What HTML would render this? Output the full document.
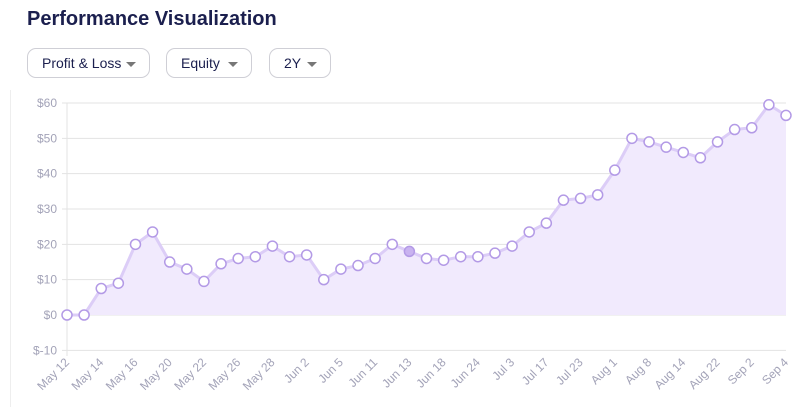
<!DOCTYPE html>
<html><head><style>
body{margin:0;width:802px;height:407px;background:#fff;font-family:"Liberation Sans",sans-serif;overflow:hidden;position:relative}
h1{position:absolute;left:27px;top:8px;margin:0;font-size:20px;font-weight:bold;color:#1b1f4e}
.dd{position:absolute;top:48px;height:30px;border:1px solid #cfcfd6;border-radius:9px;box-sizing:border-box;font-size:14px;color:#1b1f4e;line-height:29px;padding-left:14px}
.dd:after{content:"";position:absolute;right:13px;top:13px;border-left:5px solid transparent;border-right:5px solid transparent;border-top:5px solid #777}
.lb{position:absolute;left:10px;top:90px;width:1px;height:317px;background:#eee}
</style></head><body>
<div class="lb"></div>
<h1>Performance Visualization</h1>
<div class="dd" style="left:27px;width:123px">Profit &amp; Loss</div>
<div class="dd" style="left:166px;width:86px">Equity</div>
<div class="dd" style="left:269px;width:62px">2Y</div>
<svg width="802" height="407" style="position:absolute;left:0;top:0" id="s"></svg>
<script>
var v=[0,0,7.5,9,20,23.5,15,13,9.5,14.5,16,16.5,19.5,16.5,17,10,13,14,16,20,18,16,15.5,16.5,16.5,17.5,19.5,23.5,26,32.5,33,34,41,50,49,47.5,46,44.5,49,52.5,53,59.5,56.5];
var labs=["May 12","May 14","May 16","May 20","May 22","May 26","May 28","Jun 2","Jun 5","Jun 11","Jun 13","Jun 18","Jun 24","Jul 3","Jul 17","Jul 23","Aug 1","Aug 8","Aug 14","Aug 22","Sep 2","Sep 4"];
function X(i){return 67+i*(719/42)}function Y(d){return 315-d*3.533}
var s='';
for(var t=-10;t<=60;t+=10){var y=Y(t);s+='<line x1="62" x2="786" y1="'+y+'" y2="'+y+'" stroke="#e3e3e3"/>';s+='<text x="57" y="'+(y+4)+'" text-anchor="end" font-size="12" fill="#a3a3b8">$'+t+'</text>';}
s+='<line x1="67" x2="67" y1="103" y2="356" stroke="#e3e3e3"/>';
var p='';for(var i=0;i<v.length;i++)p+=X(i)+','+Y(v[i])+' ';
s+='<polygon points="'+p+X(42)+','+Y(0)+' '+X(0)+','+Y(0)+'" fill="#f1eafd"/>';
s+='<polyline points="'+p+'" fill="none" stroke="#dccdf7" stroke-width="3"/>';
for(var i=0;i<v.length;i++)s+='<circle cx="'+X(i)+'" cy="'+Y(v[i])+'" r="5" fill="'+(i==20?'#c9b3f0':'#fff')+'" stroke="#b39ae6" stroke-width="1.5"/>';
for(var j=0;j<labs.length;j++){var x=X(j*2);s+='<text transform="translate('+(x+3)+',363) rotate(-45)" text-anchor="end" font-size="12" fill="#a3a3b8">'+labs[j]+'</text>';}
document.getElementById('s').innerHTML=s;
</script>
</body></html>
